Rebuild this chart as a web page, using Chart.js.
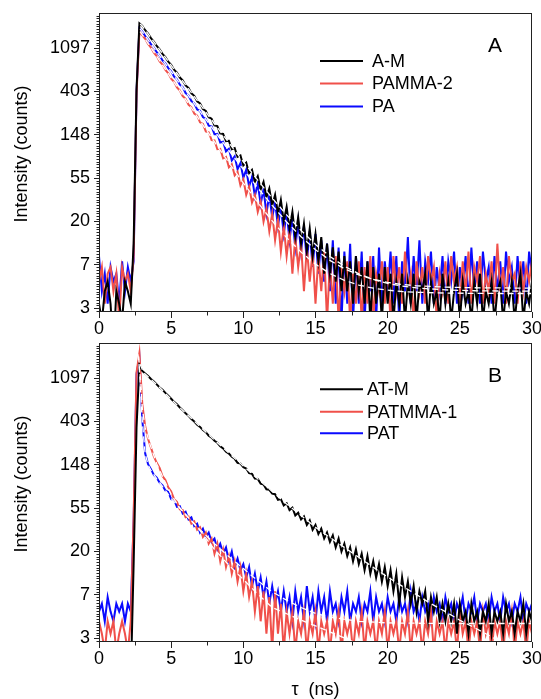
<!DOCTYPE html>
<html>
<head>
<meta charset="utf-8">
<script src="https://cdn.jsdelivr.net/npm/chart.js@4.4.1/dist/chart.umd.min.js"></script>
<style>
  html, body { margin: 0; padding: 0; background: #fff; }
  canvas { position: absolute; left: 0; }
  #panelA { top: 0; }
  #panelB { top: 340px; }
</style>
</head>
<body>
<canvas id="panelA" width="541" height="340"></canvas>
<canvas id="panelB" width="541" height="359"></canvas>
<script>
// channel times (ns), one every 0.2 ns
const timeAxis = [
  0,0.2,0.4,0.6,0.8,1,1.2,1.4,1.6,1.8,
  2,2.2,2.4,2.6,2.8,3,3.2,3.4,3.6,3.8,
  4,4.2,4.4,4.6,4.8,5,5.2,5.4,5.6,5.8,
  6,6.2,6.4,6.6,6.8,7,7.2,7.4,7.6,7.8,
  8,8.2,8.4,8.6,8.8,9,9.2,9.4,9.6,9.8,
  10,10.2,10.4,10.6,10.8,11,11.2,11.4,11.6,11.8,
  12,12.2,12.4,12.6,12.8,13,13.2,13.4,13.6,13.8,
  14,14.2,14.4,14.6,14.8,15,15.2,15.4,15.6,15.8,
  16,16.2,16.4,16.6,16.8,17,17.2,17.4,17.6,17.8,
  18,18.2,18.4,18.6,18.8,19,19.2,19.4,19.6,19.8,
  20,20.2,20.4,20.6,20.8,21,21.2,21.4,21.6,21.8,
  22,22.2,22.4,22.6,22.8,23,23.2,23.4,23.6,23.8,
  24,24.2,24.4,24.6,24.8,25,25.2,25.4,25.6,25.8,
  26,26.2,26.4,26.6,26.8,27,27.2,27.4,27.6,27.8,
  28,28.2,28.4,28.6,28.8,29,29.2,29.4,29.6,29.8,
  30
];

// y axis: ticks at e^1 ... e^7
const yTickValues = [2.718, 7.389, 20.09, 54.6, 148.4, 403.4, 1096.6];
const yTickLabels = ['3', '7', '20', '55', '148', '403', '1097'];
const xTickValues = [0, 5, 10, 15, 20, 25, 30];
const xMinorTicks = [2.5, 7.5, 12.5, 17.5, 22.5, 27.5];

// ---- panel A ----
const countsAM = [
  3,2,4,5,3,1,4,3,2,5,
  4,3,12,420,1935,1830,1652,1531,1379,1275,
  1149,1066,958,889,799,744,665,622,555,519,
  462,436,386,364,321,306,268,257,222,215,
  184,181,153,151,128,129,106,109,89,92,
  73,78,61,66,50,57,42,50,35,43,
  29,37,24,33,20,28,17,25,14,22,
  12,19,10,17,9,15,8,14,6,12,
  6,11,5,10,4,9,4,8,3,9,
  4,7,3,8,2,7,3,6,2,7,
  3,6,2,5,3,6,2,5,3,6,
  2,5,4,6,2,5,3,4,2,6,
  3,5,2,4,6,2,5,3,4,2,
  5,3,6,2,4,3,5,2,4,5,
  2,4,3,5,2,4,6,2,4,3,
  5
];
const countsPAMMA2 = [
  5,7,3,6,7,4,6,2,7,5,
  6,4,9,380,1610,1470,1355,1202,1110,985,
  912,805,748,660,612,540,503,441,412,362,
  340,297,279,241,230,197,190,160,157,131,
  130,106,107,86,89,70,75,58,63,46,
  53,37,45,31,37,25,32,20,27,16,
  24,13,21,10,18,9,16,6,14,7,
  12,4,11,5,10,3,9,4,10,2,
  8,3,9,2,7,4,8,2,6,3,
  8,2,7,3,9,2,6,4,8,3,
  7,2,9,4,7,3,10,4,6,2,
  8,4,7,3,9,5,7,2,6,4,
  8,3,9,5,7,3,8,4,10,3,
  7,5,9,3,6,4,8,3,12,4,
  7,3,9,5,6,3,8,4,7,5,
  8
];
const countsPA = [
  9,4,6,3,7,5,6,3,8,4,
  7,5,8,400,1720,1600,1442,1330,1196,1108,
  995,921,825,768,690,640,568,533,470,445,
  388,367,323,306,266,258,223,214,183,180,
  150,151,124,126,101,107,82,90,67,77,
  55,66,45,56,36,48,30,42,24,37,
  22,31,18,28,15,25,13,22,11,20,
  10,18,8,16,7,15,6,13,5,12,
  4,13,3,11,2,10,3,12,2,9,
  3,10,2,8,4,9,2,11,3,8,
  4,10,3,9,2,8,4,14,3,9,
  4,13,3,8,5,10,3,7,4,9,
  3,8,5,10,3,7,4,9,3,11,
  4,8,3,10,5,7,3,9,4,8,
  3,10,5,7,3,9,4,8,3,10,
  6
];
const fitTimesA = [2.85,3,4,5,6,7,8,9,10,11,12,13,14,15,16,17,18,19,20,21,22,24,26,28,30];
const fitAM = [1906,1822,1158,736.5,469,299,191,123,79.5,51.9,34.4,23.3,16.3,11.8,8.94,7.14,5.99,5.26,4.8,4.51,4.32,4.13,4.05,4.02,4.01];
const fitPAMMA2 = [1604,1488,904,550,335,205,125.6,77.7,48.6,31,20.3,13.8,9.87,7.48,6.03,5.15,4.62,4.3,4.1,3.98,3.91,3.84,3.81,3.8,3.8];
const fitPA = [1709,1595,1005,634,401,254,161.5,103,66.6,43.5,29,19.8,14.1,10.45,8.17,6.74,5.83,5.27,4.91,4.68,4.54,4.4,4.34,4.32,4.3];

// ---- panel B ----
const countsATM = [
  1,1,1,1,1,1,1,1,1,1,
  1,1,15,350,1480,1290,1215,1150,1072,1015,
  948,882,836,778,730,680,632,598,555,522,
  485,458,425,402,372,355,330,314,290,277,
  258,246,227,216,200,192,178,170,155,152,
  140,136,122,120,108,107,96,94,84,83,
  76,75,66,67,58,61,52,55,46,49,
  42,45,37,41,33,37,30,34,27,31,
  25,29,22,27,20,24,18,22,16,21,
  15,19,13,18,12,16,11,15,10,14,
  9,13,8,12,6,11,7,10,6,9,
  5,8,6,8,4,7,5,7,4,6,
  4,6,4,6,3,6,4,5,3,6,
  4,5,3,5,4,6,3,5,4,5,
  3,6,4,5,3,5,4,6,3,5,
  4
];
const countsPATMMA1 = [
  4,3,2,4,3,4,2,3,4,3,
  2,4,45,1250,1950,600,360,268,220,180,
  155,138,114,104,88,80,67,63,53,52,
  44,45,38,40,33,35,28,31,24,27,
  19,24,16,21,14,18,12,16,10,14,
  8,12,7,10,5,9,4,8,3,7,
  2,8,3,6,2,5,3,5,2,4,
  3,5,2,4,3,5,2,4,3,4,
  2,4,3,5,2,4,3,4,2,4,
  3,5,2,4,3,4,2,4,3,5,
  2,4,3,4,2,4,3,5,2,4,
  3,4,2,4,3,5,2,4,3,4,
  2,4,3,4,2,5,3,4,2,4,
  3,4,2,5,3,4,2,4,3,4,
  2,4,3,5,2,4,3,4,2,4,
  3
];
const countsPAT = [
  5,6,4,7,5,4,6,5,6,4,
  6,5,40,1200,1750,420,192,150,134,117,
  110,98,92,82,79,67,66,56,57,48,
  50,42,44,36,38,31,34,28,31,25,
  27,21,24,19,22,16,20,14,17,13,
  15,11,14,9,12,8,11,7,10,6,
  9,6,8,5,8,5,7,4,8,5,
  7,4,9,5,7,4,8,5,7,4,
  8,5,6,4,7,5,8,4,6,5,
  7,4,6,5,8,4,7,5,6,4,
  7,5,6,4,7,5,6,4,8,5,
  6,4,7,5,6,4,7,5,6,4,
  7,5,6,4,6,5,7,4,6,5,
  7,4,6,5,6,4,7,5,6,4,
  7,5,6,4,6,5,7,4,6,5,
  6
];
const fitTimesATM = [2.85,3.1,4,5,6,7,8,9,10,11,12,13,14,15,16,17,18,19,20,21,22,23,24,25,26,27,28,29,30];
const fitATM = [1510,1236,944,672,488,358,262,194,144,107,80,60,46,35,27.7,22,17.5,13.9,11.1,9,7.4,6,5,4.1,3.46,2.9,2.4,2,1.7];
const fitTimesPATMMA1 = [2.7,2.9,3,3.2,3.5,4,4.5,5,5.5,6,7,8,9,10,11,12,13,14,15,16,17,18,20];
const fitPATMMA1 = [1900,990,545,347,245,151,105,75,57,47,32.5,21,14.6,10.5,7.5,5.5,4.76,4.1,3.6,3.13,2.72,2.36,1.8];
const fitTimesPAT = [2.75,2.9,3,3.2,3.4,3.6,4,4.5,5,6,7,8,9,10,11,12,13,14,15,16,18,20,24,30];
const fitPAT = [1800,735,403,190,148,130,107,86,68,47,33,24,17.8,13.5,10.2,7.9,6.5,5.5,4.8,4.4,4,3.85,3.8,3.8];

const BLACK = '#000000';
const RED = '#f0504a';
const BLUE = '#0a0aff';
const FONT = 'Arial, "Liberation Sans", sans-serif';

Chart.defaults.font.family = FONT;
Chart.defaults.font.size = 18;
Chart.defaults.color = '#000';

function dataSet(label, values, color, order) {
  return { label, data: values, borderColor: color, borderWidth: 2, pointRadius: 0, tension: 0, fill: false, order };
}
function fitSet(times, values) {
  return {
    label: 'fit', isFit: true,
    data: times.map((t, i) => ({ x: t, y: values[i] })),
    borderColor: '#ffffff', borderWidth: 1.3, borderDash: [6, 4],
    pointRadius: 0, tension: 0, fill: false, order: 0
  };
}

// frame, minor ticks, y title, legend and panel letter
const decorPlugin = {
  id: 'decor',
  afterDraw(chart, args, opts) {
    const { ctx, chartArea: a, scales: { x, y } } = chart;
    const L = Math.round(a.left) + 0.5, R = Math.round(a.right) - 0.5;
    const T = Math.round(a.top) + 0.5, B = Math.round(a.bottom) - 0.5;
    ctx.save();
    ctx.strokeStyle = '#222';
    ctx.lineWidth = 1;
    ctx.strokeRect(L, T, R - L, B - T);

    ctx.beginPath();
    const lo = Math.log(y.min), hi = Math.log(y.max);
    for (let k = Math.ceil(lo * 16); k <= Math.floor(hi * 16); k++) {
      if (k % 16 === 0) continue;
      const py = Math.round(y.getPixelForValue(Math.exp(k / 16))) + 0.5;
      ctx.moveTo(L - 3, py); ctx.lineTo(L, py);
    }
    xMinorTicks.forEach(v => {
      const px = Math.round(x.getPixelForValue(v)) + 0.5;
      ctx.moveTo(px, B); ctx.lineTo(px, B + 4);
    });
    ctx.stroke();

    ctx.fillStyle = '#000';
    ctx.font = '18px ' + FONT;
    ctx.textAlign = 'center';
    ctx.textBaseline = 'middle';
    ctx.save();
    ctx.translate(opts.titleX, opts.titleY);
    ctx.rotate(-Math.PI / 2);
    ctx.fillText('Intensity (counts)', 0, 0);
    ctx.restore();

    ctx.font = '21px ' + FONT;
    ctx.fillText(opts.letter, opts.letterX, opts.letterY);

    ctx.font = '18px ' + FONT;
    ctx.textAlign = 'left';
    const entries = chart.data.datasets.filter(d => !d.isFit);
    entries.forEach((d, i) => {
      const ry = opts.rows[i];
      ctx.strokeStyle = d.borderColor;
      ctx.lineWidth = 2;
      ctx.beginPath();
      ctx.moveTo(opts.lineX[0], ry); ctx.lineTo(opts.lineX[1], ry);
      ctx.stroke();
      ctx.fillText(d.label, opts.textX, ry + 1);
    });
    ctx.restore();
  }
};

function makeScales(xHeight, showTitle) {
  return {
    x: {
      type: 'linear', min: 0, max: 30,
      afterBuildTicks: s => { s.ticks = xTickValues.map(v => ({ value: v })); },
      afterFit: s => { s.height = xHeight; s.paddingLeft = 0; s.paddingRight = 0; },
      ticks: { padding: 0, maxRotation: 0, autoSkip: false },
      grid: { drawOnChartArea: false, drawTicks: true, tickLength: 6, color: '#222' },
      border: { display: false },
      title: { display: showTitle, text: 'τ  (ns)', font: { size: 18, lineHeight: 1 }, padding: { top: 0, bottom: 0 } }
    },
    y: {
      type: 'logarithmic', min: 2.48, max: 2460,
      afterBuildTicks: s => { s.ticks = yTickValues.map(v => ({ value: v })); },
      afterFit: s => { s.width = 99; s.paddingTop = 0; s.paddingBottom = 0; },
      ticks: { padding: 4, autoSkip: false, callback: (v, i) => yTickLabels[i] },
      grid: { drawOnChartArea: false, drawTicks: true, tickLength: 5, color: '#222' },
      border: { display: false }
    }
  };
}

new Chart(document.getElementById('panelA'), {
  type: 'line',
  data: {
    labels: timeAxis,
    datasets: [
      dataSet('A-M', countsAM, BLACK, 1),
      dataSet('PAMMA-2', countsPAMMA2, RED, 2),
      dataSet('PA', countsPA, BLUE, 3),
      fitSet(fitTimesA, fitAM),
      fitSet(fitTimesA, fitPAMMA2),
      fitSet(fitTimesA, fitPA)
    ]
  },
  options: {
    responsive: false, animation: false, devicePixelRatio: 1,
    layout: { padding: { top: 13, right: 9, left: 0, bottom: 0 } },
    scales: makeScales(28, false),
    plugins: {
      legend: { display: false }, tooltip: { enabled: false },
      decor: { titleX: 22, titleY: 154, letter: 'A', letterX: 495, letterY: 46,
               lineX: [320, 363], textX: 372, rows: [61, 83.5, 106.5] }
    }
  },
  plugins: [decorPlugin]
});

new Chart(document.getElementById('panelB'), {
  type: 'line',
  data: {
    labels: timeAxis,
    datasets: [
      dataSet('AT-M', countsATM, BLACK, 1),
      dataSet('PATMMA-1', countsPATMMA1, RED, 2),
      dataSet('PAT', countsPAT, BLUE, 3),
      fitSet(fitTimesATM, fitATM),
      fitSet(fitTimesPATMMA1, fitPATMMA1),
      fitSet(fitTimesPAT, fitPAT)
    ]
  },
  options: {
    responsive: false, animation: false, devicePixelRatio: 1,
    layout: { padding: { top: 3, right: 9, left: 0, bottom: 0 } },
    scales: makeScales(57, true),
    plugins: {
      legend: { display: false }, tooltip: { enabled: false },
      decor: { titleX: 22, titleY: 144, letter: 'B', letterX: 495, letterY: 36,
               lineX: [320, 363], textX: 367, rows: [49.3, 71.7, 93.3] }
    }
  },
  plugins: [decorPlugin]
});
</script>
</body>
</html>
